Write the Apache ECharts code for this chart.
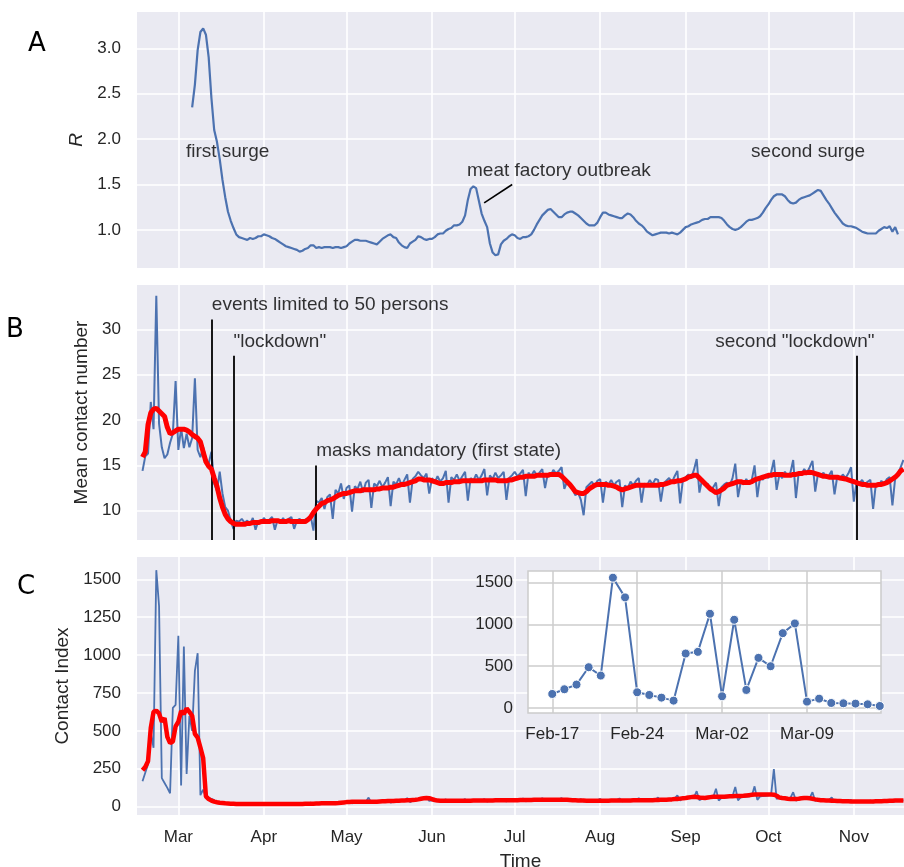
<!DOCTYPE html>
<html><head><meta charset="utf-8">
<script src="https://cdn.jsdelivr.net/npm/echarts@6/dist/echarts.min.js"></script>
<style>html,body{margin:0;padding:0;background:#fff}#main{width:904px;height:867px}</style>
</head><body><div id="main"></div>
<script>
// ---------------- data ----------------
const rStart = '2020-03-06';
const rValues = [
 2.35,2.60,2.98,3.18,3.22,3.15,2.90,2.45,2.10,1.97,
 1.78,1.55,1.36,1.20,1.10,1.02,0.95,0.92,0.91,0.90,
 0.89,0.91,0.90,0.91,0.93,0.93,0.95,0.94,0.93,0.91,
 0.90,0.88,0.86,0.84,0.82,0.81,0.80,0.79,0.78,0.76,
 0.77,0.79,0.80,0.83,0.83,0.80,0.81,0.80,0.81,0.81,
 0.81,0.80,0.81,0.81,0.80,0.81,0.82,0.85,0.87,0.89,
 0.89,0.88,0.88,0.88,0.87,0.86,0.85,0.84,0.87,0.90,
 0.92,0.94,0.95,0.92,0.91,0.86,0.83,0.81,0.80,0.85,
 0.87,0.89,0.93,0.92,0.90,0.89,0.90,0.90,0.92,0.95,
 0.96,0.96,0.99,1.01,1.02,1.05,1.05,1.06,1.09,1.16,
 1.33,1.45,1.48,1.46,1.32,1.18,1.10,1.03,0.85,0.75,
 0.72,0.73,0.84,0.88,0.90,0.93,0.95,0.94,0.91,0.90,
 0.92,0.92,0.93,0.95,1.00,1.06,1.11,1.16,1.19,1.22,
 1.23,1.20,1.17,1.14,1.14,1.17,1.19,1.20,1.20,1.18,
 1.16,1.13,1.10,1.07,1.05,1.05,1.05,1.08,1.14,1.19,
 1.19,1.17,1.16,1.15,1.14,1.13,1.13,1.16,1.18,1.17,
 1.14,1.10,1.07,1.05,1.02,0.98,0.96,0.94,0.95,0.96,
 0.97,0.97,0.97,0.96,0.97,0.96,0.95,0.97,1.00,1.03,
 1.04,1.06,1.07,1.08,1.09,1.11,1.12,1.12,1.14,1.14,
 1.14,1.14,1.13,1.10,1.06,1.03,1.01,1.00,1.01,1.03,
 1.06,1.09,1.11,1.11,1.12,1.13,1.15,1.19,1.24,1.28,
 1.33,1.37,1.39,1.39,1.39,1.37,1.33,1.30,1.29,1.30,
 1.33,1.35,1.36,1.37,1.38,1.40,1.42,1.44,1.43,1.38,
 1.33,1.29,1.24,1.19,1.15,1.11,1.07,1.05,1.04,1.04,
 1.03,1.02,1.00,0.98,0.97,0.96,0.96,0.96,0.96,0.99,
 1.01,1.03,1.02,1.04,0.98,1.03,0.95
];

const dailyStart = '2020-02-17';
const contactRaw = [
 14.4,16.0,16.3,22.0,19.0,33.7,19.6,
 17.0,15.8,16.2,17.5,18.5,24.3,16.7,
 19.1,16.9,18.5,17.0,18.0,24.6,16.7,
 15.9,17.0,15.7,15.2,16.5,13.0,12.2,
 14.3,11.9,10.4,10.0,8.9,8.0,8.9,
 8.8,9.1,8.7,8.9,8.5,9.2,7.9,
 8.9,8.6,9.2,8.8,9.0,9.3,7.9,
 9.0,8.7,9.2,8.6,9.1,9.3,8.0,
 8.9,9.1,8.6,9.0,9.2,9.4,7.8,
 11.1,10.9,11.4,10.2,11.5,11.8,9.1,
 12.3,11.9,13.0,11.3,12.5,12.8,9.9,
 12.7,12.4,13.2,12.0,13.1,13.4,10.3,
 13.0,12.7,13.3,12.6,13.1,13.7,10.5,
 13.2,12.9,13.6,12.8,13.4,14.0,10.9,
 13.5,13.8,14.3,13.9,13.6,14.1,11.9,
 13.6,13.1,13.8,13.2,13.6,14.4,10.9,
 13.7,13.4,14.0,13.3,13.8,14.3,11.1,
 13.6,13.3,14.0,13.4,13.9,14.6,11.7,
 13.9,13.5,14.2,13.6,13.9,14.3,11.2,
 13.6,13.9,14.3,13.8,14.1,14.5,11.6,
 14.2,13.8,14.4,13.9,14.2,14.6,12.5,
 14.1,13.8,14.5,14.1,14.4,14.8,12.4,
 13.2,13.0,12.4,11.7,12.0,11.2,9.5,
 12.6,12.9,13.2,12.7,13.3,13.5,10.9,
 13.2,12.9,13.4,12.8,13.2,13.4,10.4,
 12.8,12.5,13.2,12.8,13.3,13.6,10.9,
 13.0,12.8,13.4,12.9,13.5,13.4,11.0,
 13.0,13.3,13.6,13.1,13.8,14.4,10.8,
 13.4,13.7,14.0,13.6,14.5,15.7,12.0,
 13.5,12.8,13.0,12.2,12.6,13.1,10.5,
 12.6,12.9,13.1,12.8,13.6,15.2,11.5,
 13.2,12.9,13.5,12.9,13.4,15.0,11.5,
 13.7,13.4,14.0,13.6,14.2,15.6,12.3,
 14.0,13.6,14.3,13.8,14.2,15.6,11.4,
 14.2,13.9,14.6,14.2,14.8,15.5,12.1,
 14.1,13.8,14.2,13.6,13.9,14.4,11.8,
 13.8,13.5,14.0,13.6,14.1,14.8,11.0,
 13.2,13.0,13.4,12.9,13.2,13.4,10.2,
 13.0,12.7,13.3,12.9,13.5,13.7,10.6,
 13.6,14.0,14.8,15.6
];
const contactSmooth = [
 15.9,16.5,19.5,20.8,21.2,21.3,21.0,
 20.7,20.4,19.2,18.5,18.6,18.8,19.0,
 19.0,19.0,18.9,18.7,18.4,18.2,18.0,
 17.6,16.5,15.4,14.9,14.6,13.6,12.7,
 11.4,10.4,9.6,9.1,8.8,8.6,8.5,
 8.5,8.5,8.5,8.6,8.6,8.7,8.7,
 8.7,8.8,8.8,8.8,8.8,8.9,8.9,
 8.9,8.8,8.8,8.8,8.9,8.8,8.8,
 8.8,8.8,8.8,8.8,9.0,9.3,9.8,
 10.2,10.5,10.8,10.9,11.1,11.2,11.3,
 11.5,11.7,11.8,11.9,11.9,12.0,12.1,
 12.2,12.2,12.2,12.3,12.3,12.3,12.3,
 12.3,12.4,12.4,12.5,12.5,12.5,12.6,
 12.6,12.7,12.8,12.9,12.9,13.0,13.1,
 13.2,13.3,13.5,13.5,13.4,13.4,13.4,
 13.3,13.2,13.1,13.0,13.0,13.1,13.1,
 13.1,13.2,13.2,13.2,13.3,13.3,13.3,
 13.3,13.3,13.3,13.3,13.3,13.4,13.4,
 13.4,13.4,13.4,13.3,13.3,13.3,13.3,
 13.4,13.4,13.5,13.6,13.7,13.7,13.8,
 13.8,13.8,13.8,13.9,13.9,13.9,13.9,
 13.9,14.0,14.0,14.0,14.0,13.8,13.5,
 13.2,12.9,12.5,12.1,12.0,11.9,11.9,
 12.1,12.4,12.6,12.8,12.9,12.9,12.9,
 12.9,12.8,12.8,12.7,12.6,12.4,12.3,
 12.4,12.5,12.6,12.7,12.8,12.8,12.8,
 12.8,12.8,12.8,12.8,12.8,12.8,12.9,
 12.9,13.0,13.1,13.2,13.2,13.3,13.3,
 13.4,13.5,13.7,13.8,13.9,13.9,13.6,
 13.3,13.0,12.7,12.4,12.2,12.0,12.1,
 12.3,12.5,12.8,12.9,13.0,13.1,13.2,
 13.2,13.1,13.1,13.1,13.2,13.4,13.5,
 13.6,13.7,13.8,13.9,13.9,14.0,14.0,
 14.0,14.0,13.9,13.9,13.9,14.0,14.0,
 14.1,14.1,14.2,14.2,14.25,14.2,14.1,
 14.0,13.9,13.8,13.8,13.7,13.7,13.7,
 13.7,13.6,13.55,13.5,13.4,13.3,13.2,
 13.1,13.0,12.9,12.9,12.8,12.8,12.8,
 12.8,12.9,12.9,13.0,13.1,13.3,13.5,
 13.7,14.0,14.4,14.6
];
const indexRaw = [
 168,224,280,488,388,1560,1324,
 188,156,124,88,652,672,1128,
 140,1056,216,600,500,896,1012,
 76,112,60,56,52,44,24,
 22,20,18,19,17,21,15,
 18,17,19,18,17,20,14,
 17,18,18,17,18,21,15,
 18,19,18,19,18,22,15,
 19,20,19,21,22,26,17,
 23,24,25,24,26,30,20,
 27,28,29,28,30,36,22,
 30,31,32,31,33,60,25,
 32,33,34,33,35,45,27,
 35,36,37,36,38,57,30,
 40,42,45,48,50,66,38,
 42,40,39,38,40,48,32,
 39,38,39,40,40,50,32,
 40,39,40,41,40,50,33,
 41,40,41,42,41,52,34,
 42,42,43,43,43,54,35,
 43,43,44,44,45,56,36,
 44,45,45,46,46,57,36,
 44,43,42,41,41,50,33,
 40,41,41,42,42,52,34,
 42,42,43,43,43,54,35,
 43,44,44,45,45,56,36,
 45,46,46,47,48,60,38,
 48,49,50,52,54,75,40,
 55,57,58,60,62,102,42,
 52,54,56,58,62,118,40,
 58,60,62,64,68,130,42,
 62,64,66,68,72,134,45,
 68,70,72,75,80,248,50,
 62,58,56,55,58,95,40,
 50,52,53,55,58,95,38,
 45,44,43,42,44,61,33,
 38,37,37,36,37,45,30,
 34,34,33,33,34,40,28,
 33,33,34,34,35,42,30,
 37,38,40,42
];
const indexSmooth = [
 240,262,300,520,625,633,615,
 560,585,460,420,430,530,560,
 630,612,648,625,600,480,455,
 390,320,68,50,40,33,29,
 26,24,22,21,20,19,18,
 18,18,18,18,18,18,18,
 18,18,18,18,18,18,18,
 18,18,18,18,18,18,18,
 18,18,18,19,19,20,20,
 21,21,22,22,22,23,23,
 23,24,26,28,30,31,32,
 32,32,32,32,32,32,32,
 32,33,34,35,36,37,38,
 38,39,39,40,41,42,43,
 44,45,48,52,55,57,56,
 50,44,40,39,39,39,39,
 39,39,39,39,39,39,39,
 39,40,40,40,40,41,41,
 41,41,42,42,42,42,43,
 43,43,43,43,44,44,44,
 44,44,45,45,45,45,45,
 45,45,45,45,45,45,45,
 45,44,43,42,41,40,40,
 39,39,39,39,39,39,39,
 39,39,40,40,40,40,41,
 41,41,41,42,42,42,42,
 43,43,43,43,44,44,45,
 45,46,47,48,50,51,53,
 55,57,60,63,66,64,60,
 58,57,60,63,66,66,66,
 66,66,67,68,69,70,70,
 71,72,74,76,78,80,80,
 80,80,80,80,80,79,72,
 60,57,55,52,50,50,50,
 52,55,57,57,55,52,48,
 45,43,42,41,40,39,39,
 38,37,36,35,35,34,34,
 34,34,34,34,34,34,34,
 35,35,36,37,38,39,39,
 40,40,41,41
];
const insetDays = 28; // Feb 17 .. Mar 15 of indexRaw

const monthTicks = ['2020-03-01','2020-04-01','2020-05-01','2020-06-01','2020-07-01','2020-08-01','2020-09-01','2020-10-01','2020-11-01'];
const monthLabels = ['Mar','Apr','May','Jun','Jul','Aug','Sep','Oct','Nov'];
const rTicks = [1.0,1.5,2.0,2.5,3.0];
const contactTicks = [10,15,20,25,30];
const indexTicks = [0,250,500,750,1000,1250,1500];
const insetYTicks = [0,500,1000,1500];
const insetXTicks = ['2020-02-17','2020-02-24','2020-03-02','2020-03-09'];
const insetXLabels = ['Feb-17','Feb-24','Mar-02','Mar-09'];

const annotationsR = [
 {at:'2020-03-03T22:00', y:1.855, text:'first surge'},
 {at:'2020-06-13T21:00', y:1.645, text:'meat factory outbreak'},
 {at:'2020-09-24T22:00', y:1.85, text:'second surge'}
];
const pointerR = [['2020-06-19T22:00', 1.297], ['2020-06-30T02:00', 1.50]];
const policyEvents = [
 {date:'2020-03-13', top:31.1, text:'events limited to 50 persons', textAt:'2020-03-13T08:00', textY:32.65},
 {date:'2020-03-21', top:27.1, text:'"lockdown"', textAt:'2020-03-21T04:00', textY:28.55},
 {date:'2020-04-20', top:15.0, text:'masks mandatory (first state)', textAt:'2020-04-20T04:00', textY:16.6},
 {date:'2020-11-02', top:27.1, text:'second "lockdown"', textAt:'2020-09-11T22:00', textY:28.55}
];

// ---------------- helpers ----------------
const DAY = 86400000;
function ts(s){ return s.length > 10 ? Date.parse(s + ':00Z') : Date.parse(s + 'T00:00:00Z'); }
function daily(start, vals){ const t0 = ts(start); return vals.map((v,i)=>[t0 + i*DAY, v]); }
function labelFrom(tsArr, labels){ return v => { for (let i=0;i<tsArr.length;i++) if (Math.abs(tsArr[i]-v) < DAY/2) return labels[i]; return ''; }; }

const FONT = "'Liberation Sans', Arial, sans-serif";
const TXT = '#262626';
const BLUE = '#4C72B0';
const RED = '#FF0000';
const BG = '#EAEAF2';
const monthTs = monthTicks.map(ts);
const xMin = ts('2020-02-15'), xMax = ts('2020-11-19') + 0.2*DAY;

const yMinA = 0.58, yMaxA = 3.40;
const yMinB = 6.77, yMaxB = 34.9;
const yMinC = -55, yMaxC = 1647;

function mainX(gi, showLabels){
  return {
    type:'value', gridIndex:gi, min:xMin, max:xMax,
    axisLine:{show:false}, axisTick:{show:false, customValues:monthTs},
    splitLine:{show:true, lineStyle:{color:'#ffffff', width:1.6}},
    axisLabel:{show:showLabels, customValues:monthTs, formatter:labelFrom(monthTs, monthLabels), margin:14, fontSize:17, color:TXT, fontFamily:FONT},
    name: showLabels ? 'Time' : '', nameLocation:'middle', nameGap:37,
    nameTextStyle:{fontSize:19, color:TXT, fontFamily:FONT}
  };
}
function mainY(gi, min, max, ticks, fmt, name, gap, italic){
  return {
    type:'value', gridIndex:gi, min:min, max:max,
    axisLine:{show:false}, axisTick:{show:false, customValues:ticks},
    splitLine:{show:true, lineStyle:{color:'#ffffff', width:1.6}},
    axisLabel:{customValues:ticks, formatter:fmt, margin:16, fontSize:17, color:TXT, fontFamily:FONT},
    name:name, nameLocation:'middle', nameGap:gap,
    nameTextStyle:{fontSize:19, color:TXT, fontFamily:FONT, fontStyle: italic ? 'italic' : 'normal'}
  };
}
function annoSeries(xi, yi, items){
  return {
    type:'scatter', xAxisIndex:xi, yAxisIndex:yi, symbolSize:1, silent:true, z:8,
    itemStyle:{color:'transparent'},
    data: items.map(a => [ts(a.at), a.y, a.text]),
    label:{show:true, position:[0,0], align:'left', verticalAlign:'middle', formatter:p => p.data[2], fontSize:19, color:'#000000', fontFamily:FONT}
  };
}

const insetTs = insetXTicks.map(ts);

const option = {
  animation:false,
  textStyle:{fontFamily:FONT},
  title:[
    {text:'A', left:23, top:26, padding:5, textStyle:{fontSize:26, fontWeight:'normal', color:'#000', fontFamily:'DejaVu Sans'}},
    {text:'B', left:1, top:312, padding:5, textStyle:{fontSize:26, fontWeight:'normal', color:'#000', fontFamily:'DejaVu Sans'}},
    {text:'C', left:12, top:569, padding:5, textStyle:{fontSize:26, fontWeight:'normal', color:'#000', fontFamily:'DejaVu Sans'}}
  ],
  grid:[
    {left:137, right:0, top:12, height:256, show:true, backgroundColor:BG, borderWidth:0, outerBoundsMode:'none'},
    {left:137, right:0, top:285, height:255, show:true, backgroundColor:BG, borderWidth:0, outerBoundsMode:'none'},
    {left:137, right:0, top:557, height:258, show:true, backgroundColor:BG, borderWidth:0, outerBoundsMode:'none'},
    {left:528, width:353, top:571, height:142, show:true, backgroundColor:'#ffffff', borderColor:'#cccccc', borderWidth:1.5, z:5, outerBoundsMode:'none'}
  ],
  xAxis:[
    mainX(0,false), mainX(1,false), mainX(2,true),
    {type:'value', gridIndex:3, min:ts('2020-02-15'), max:ts('2020-03-15') + 0.1*DAY, z:6,
     axisLine:{show:false}, axisTick:{show:false, customValues:insetTs},
     splitLine:{show:true, lineStyle:{color:'#cccccc', width:1.5}},
     axisLabel:{customValues:insetTs, formatter:labelFrom(insetTs, insetXLabels), margin:13, fontSize:17, color:TXT, fontFamily:FONT}}
  ],
  yAxis:[
    mainY(0, yMinA, yMaxA, rTicks, v => v.toFixed(1), 'R', 48, true),
    mainY(1, yMinB, yMaxB, contactTicks, v => String(v), 'Mean contact number', 40, false),
    mainY(2, yMinC, yMaxC, indexTicks, v => String(v), 'Contact Index', 61, false),
    {type:'value', gridIndex:3, min:-60, max:1640, z:6,
     axisLine:{show:false}, axisTick:{show:false, customValues:insetYTicks},
     splitLine:{show:true, lineStyle:{color:'#cccccc', width:1.5}},
     axisLabel:{customValues:insetYTicks, formatter:v => String(v), margin:15, fontSize:17, color:TXT, fontFamily:FONT}}
  ],
  series:[
    {type:'line', xAxisIndex:0, yAxisIndex:0, data:daily(rStart, rValues), showSymbol:false, z:3,
     lineStyle:{color:BLUE, width:2.2}, itemStyle:{color:BLUE},
     markLine:{silent:true, symbol:['none','none'], label:{show:false}, lineStyle:{color:'#000', width:1.6, type:'solid'},
       data:[[{coord:[ts(pointerR[0][0]), pointerR[0][1]]}, {coord:[ts(pointerR[1][0]), pointerR[1][1]]}]]}},
    annoSeries(0, 0, annotationsR),
    {type:'line', xAxisIndex:1, yAxisIndex:1, data:daily(dailyStart, contactRaw), showSymbol:false, z:3,
     lineStyle:{color:BLUE, width:2}, itemStyle:{color:BLUE},
     markLine:{silent:true, z:4, symbol:['none','none'], label:{show:false}, lineStyle:{color:'#000', width:1.8, type:'solid'},
       data: policyEvents.map(e => [{coord:[ts(e.date), e.top]}, {coord:[ts(e.date), yMinB]}])}},
    {type:'line', xAxisIndex:1, yAxisIndex:1, data:daily(dailyStart, contactSmooth), showSymbol:false, z:6,
     lineStyle:{color:RED, width:5}, itemStyle:{color:RED}},
    annoSeries(1, 1, policyEvents.map(e => ({at:e.textAt, y:e.textY, text:e.text}))),
    {type:'line', xAxisIndex:2, yAxisIndex:2, data:daily(dailyStart, indexRaw), showSymbol:false, z:3,
     lineStyle:{color:BLUE, width:1.8}, itemStyle:{color:BLUE}},
    {type:'line', xAxisIndex:2, yAxisIndex:2, data:daily(dailyStart, indexSmooth), showSymbol:false, z:4,
     lineStyle:{color:RED, width:4.5}, itemStyle:{color:RED}},
    {type:'line', xAxisIndex:3, yAxisIndex:3, data:daily(dailyStart, indexRaw.slice(0, insetDays)), z:10,
     symbol:'circle', symbolSize:9, showSymbol:true,
     lineStyle:{color:BLUE, width:2}, itemStyle:{color:BLUE, borderColor:'#ffffff', borderWidth:1}}
  ]
};

const chart = echarts.init(document.getElementById('main'), null, {renderer:'canvas'});
chart.setOption(option);
</script>
</body></html>
